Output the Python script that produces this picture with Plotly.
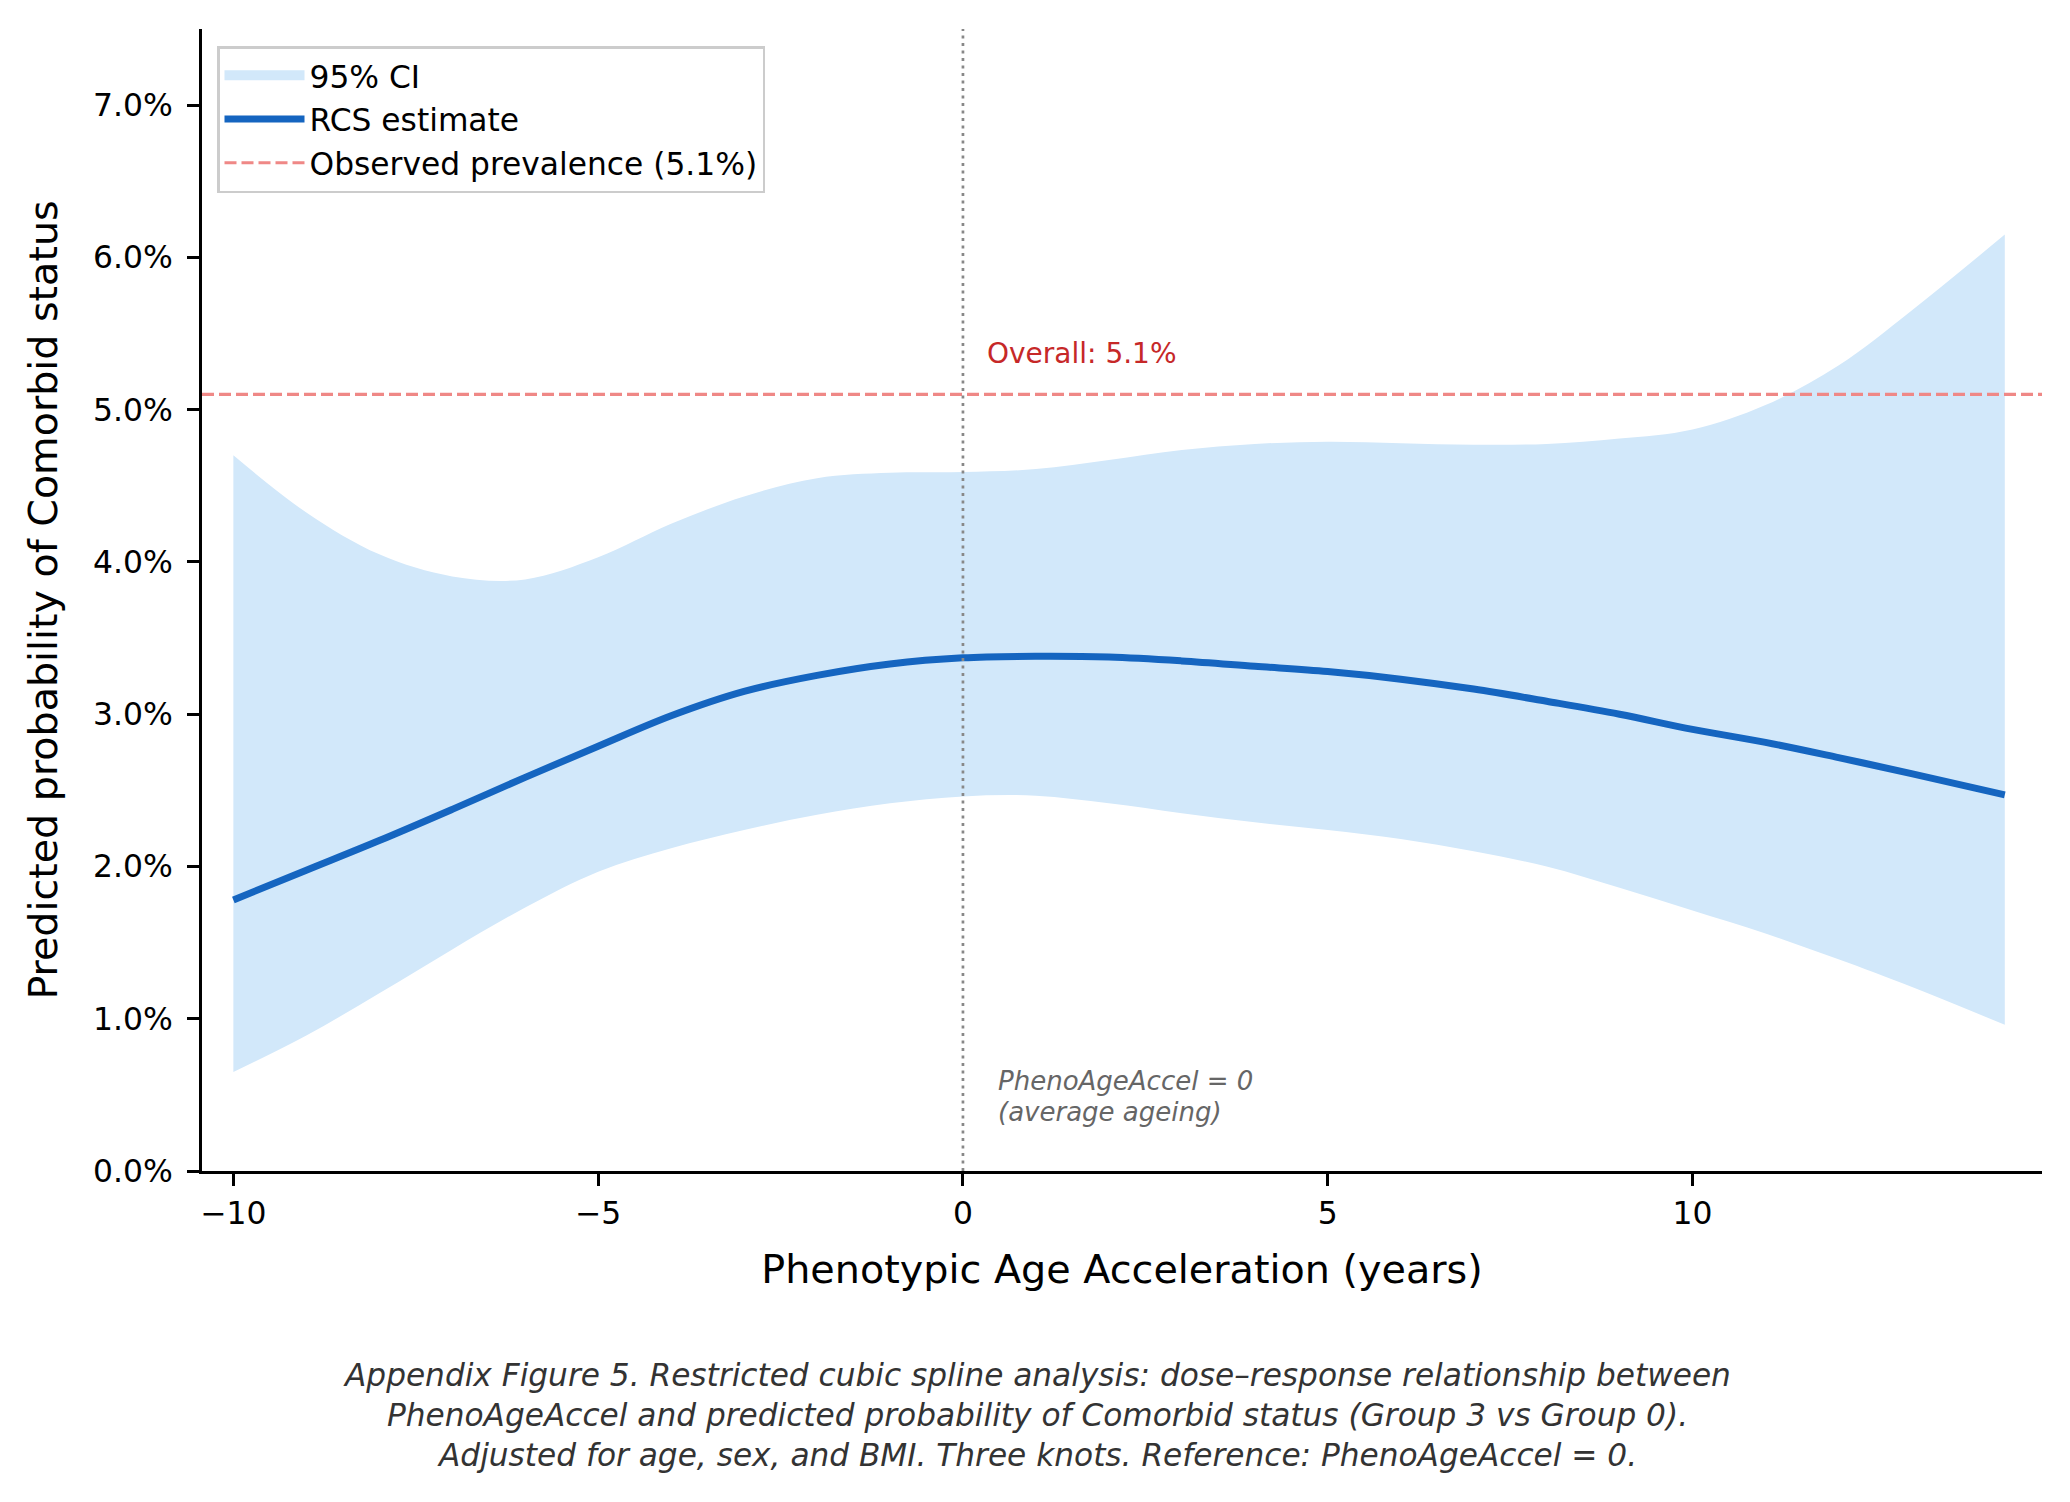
import plotly.graph_objects as go

# ---- data ----
x_vals = [-10, -9, -8, -7, -6, -5, -4, -3, -2, -1, 0, 1, 2, 3, 4, 5, 6, 7, 8, 9, 10, 11, 12, 13, 14.28]
estimate = [1.78, 1.975, 2.17, 2.375, 2.585, 2.79, 2.99, 3.15, 3.255, 3.33, 3.37, 3.38, 3.375, 3.35,
            3.315, 3.28, 3.23, 3.165, 3.085, 3.00, 2.90, 2.815, 2.715, 2.61, 2.47]
ci_lower = [0.65, 0.89, 1.167, 1.455, 1.73, 1.965, 2.12, 2.24, 2.34, 2.415, 2.46, 2.465, 2.415, 2.35,
            2.29, 2.24, 2.18, 2.10, 2.00, 1.86, 1.71, 1.56, 1.39, 1.21, 0.96]
ci_upper = [4.70, 4.325, 4.05, 3.905, 3.885, 4.03, 4.25, 4.43, 4.55, 4.585, 4.59, 4.61, 4.67, 4.735,
            4.775, 4.79, 4.78, 4.77, 4.775, 4.81, 4.87, 5.03, 5.29, 5.65, 6.15]
overall_prevalence = 5.1
reference_x = 0

x_tick_vals = [-10, -5, 0, 5, 10]
x_tick_text = ["\u221210", "\u22125", "0", "5", "10"]
y_tick_vals = [0, 1, 2, 3, 4, 5, 6, 7]
y_tick_text = ["0.0%", "1.0%", "2.0%", "3.0%", "4.0%", "5.0%", "6.0%", "7.0%"]

ref_note_lines = ["PhenoAgeAccel = 0", "(average ageing)"]
caption_lines = [
    "Appendix Figure 5. Restricted cubic spline analysis: dose\u2013response relationship between",
    "PhenoAgeAccel and predicted probability of Comorbid status (Group 3 vs Group 0).",
    "Adjusted for age, sex, and BMI. Three knots. Reference: PhenoAgeAccel = 0.",
]

FONT = "DejaVu Sans"
BODY = 8                      # default page margin of the browser around the figure
PAGE_W, PAGE_H = 2070, 1502
PLOT_L, PLOT_R, PLOT_T, PLOT_B = 202, 2042, 29, 1171   # plot area in page pixels
W, H = PAGE_W - BODY, PAGE_H - BODY
ML = PLOT_L - BODY
MT = PLOT_T - BODY
MR = W + BODY - PLOT_R
MB = H + BODY - PLOT_B
plot_w = PLOT_R - PLOT_L
plot_h = PLOT_B - PLOT_T


def px_x(px):
    return (px - PLOT_L) / plot_w


def px_y(py):
    return (PLOT_B - py) / plot_h


fig = go.Figure()

fig.add_trace(go.Scatter(
    x=x_vals, y=ci_lower, mode="lines", line=dict(width=0, shape="spline", color="rgba(0,0,0,0)"),
    showlegend=False, hoverinfo="skip"))
fig.add_trace(go.Scatter(
    x=x_vals, y=ci_upper, mode="lines", fill="tonexty", fillcolor="#d2e8fa",
    line=dict(width=0, shape="spline", color="rgba(0,0,0,0)"),
    showlegend=False, hoverinfo="skip"))
# legend entry for the band (patch-like swatch)
fig.add_trace(go.Scatter(
    x=[None], y=[None], mode="lines", line=dict(width=22, color="#d2e8fa"),
    name="95% CI", legendrank=1, legendgroup="ci"))
fig.add_trace(go.Scatter(
    x=x_vals, y=estimate, mode="lines", line=dict(width=7, color="#1565c0", shape="spline"),
    name="RCS estimate", legendrank=2, legendgroup="rcs"))

fig.add_hline(y=overall_prevalence, line=dict(color="#ef8886", width=3.2, dash="12px,5px"),
              showlegend=True, name=f"Observed prevalence ({overall_prevalence}%)",
              legendrank=3, legendgroup="obs")
fig.add_vline(x=reference_x, line=dict(color="#888888", width=2.7, dash="3px,4.5px"))

fig.add_annotation(x=reference_x + 0.3, y=overall_prevalence + 0.15, xref="x", yref="y",
                   text=f"Overall: {overall_prevalence}%", showarrow=False,
                   xanchor="left", yanchor="bottom",
                   font=dict(family=FONT, size=28, color="#c62828"))
for line, yv in zip(ref_note_lines, [0.59, 0.385]):
    fig.add_annotation(x=reference_x + 0.45, y=yv, xref="x", yref="y",
                       text=line, showarrow=False,
                       xanchor="left", yanchor="middle", align="left",
                       font=dict(family=FONT, size=26, color="#666666", style="italic"))

cap_centers_px = [1375, 1415, 1455]
for line, ypx in zip(caption_lines, cap_centers_px):
    fig.add_annotation(x=px_x(1037), y=px_y(ypx), xref="paper", yref="paper",
                       text=line, showarrow=False, xanchor="center", yanchor="middle",
                       font=dict(family=FONT, size=31.2, color="#333333", style="italic"))

fig.update_layout(
    width=W, height=H,
    margin=dict(l=ML, r=MR, t=MT, b=MB, autoexpand=False),
    paper_bgcolor="white", plot_bgcolor="white",
    font=dict(family=FONT, color="black"),
    showlegend=True,
    legend=dict(x=px_x(217), y=px_y(46), xanchor="left", yanchor="top",
                traceorder="normal", tracegroupgap=3,
                bgcolor="rgba(255,255,255,0.85)", bordercolor="#cccccc", borderwidth=2.5,
                font=dict(family=FONT, size=31.3, color="black"),
                itemwidth=80),
    xaxis=dict(range=[-10.43, 14.79], showgrid=False, zeroline=False, showline=True,
               linecolor="black", linewidth=3, ticks="outside", ticklen=12, tickwidth=2.5,
               tickcolor="black", tickvals=x_tick_vals, ticktext=x_tick_text,
               tickfont=dict(family=FONT, size=31.4, color="black"),
               title=dict(text="Phenotypic Age Acceleration (years)", standoff=26,
                          font=dict(family=FONT, size=39.7, color="black"))),
    yaxis=dict(range=[0, 7.5], showgrid=False, zeroline=False, showline=True,
               linecolor="black", linewidth=3, ticks="outside", ticklen=12, tickwidth=2.5,
               tickcolor="black", tickvals=y_tick_vals, ticktext=y_tick_text,
               ticklabelstandoff=8,
               tickfont=dict(family=FONT, size=31.4, color="black"),
               title=dict(text="Predicted probability of Comorbid status", standoff=24,
                          font=dict(family=FONT, size=39.6, color="black"))),
)

fig.write_html("out.html")
